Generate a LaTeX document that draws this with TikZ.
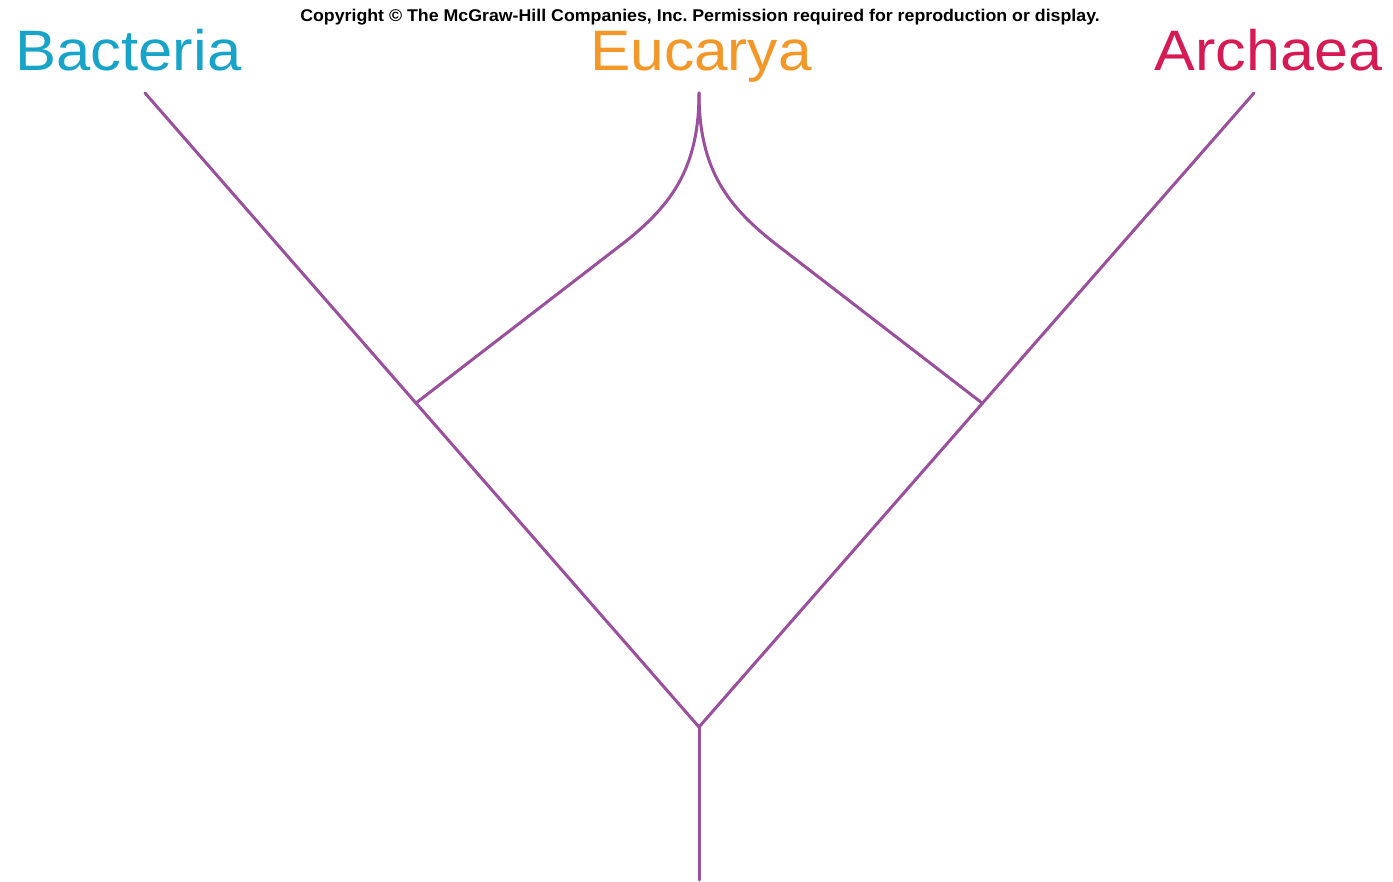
\documentclass[tikz,border=0pt]{standalone}
\usepackage{fontspec}
\setmainfont{Liberation Sans}
\definecolor{branch}{RGB}{155,80,158}
\definecolor{bact}{RGB}{24,164,200}
\definecolor{euc}{RGB}{243,152,40}
\definecolor{arch}{RGB}{214,26,84}
\newcommand{\widen}[2]{\scalebox{#1}[1]{#2}}
\tikzset{
  branchline/.style={draw=branch, line width=3pt, line cap=round, line join=round},
  domainlabel/.style={anchor=base, inner sep=0pt, font=\fontsize{57}{62}\selectfont},
}
\begin{document}
\frenchspacing
\begin{tikzpicture}[x=1pt,y=-1pt]
\useasboundingbox[fill=white] (0,0) rectangle (1393,882);
\node[anchor=base, inner sep=0pt, font=\bfseries\fontsize{17}{19}\selectfont] (copy) at (700,22) {\widen{1.045}{Copyright \textcopyright\ The McGraw-Hill Companies, Inc.\ Permission required for reproduction or display.}};
\node[domainlabel, text=bact] (bacteria) at (128.5,71) {\widen{1.08}{Bacteria}};
\node[domainlabel, text=euc] (eucarya) at (701,71) {\widen{1.06}{Eucarya}};
\node[domainlabel, text=arch] (archaea) at (1268.5,71) {\widen{1.07}{Archaea}};
\coordinate (btop) at (145,93);
\coordinate (etop) at (699,93);
\coordinate (atop) at (1254,93);
\coordinate (bj) at (416,403);
\coordinate (aj) at (982,403);
\coordinate (eL) at (621,245);
\coordinate (eR) at (777,245);
\coordinate (root) at (699,727);
\coordinate (base) at (699,880);
\draw[branchline] (btop) -- (root) -- (atop);
\draw[branchline] (root) -- (base);
\draw[branchline] (bj) -- (eL) .. controls (670,207) and (699,170) .. (etop);
\draw[branchline] (aj) -- (eR) .. controls (728,207) and (699,170) .. (etop);
\end{tikzpicture}
\end{document}
